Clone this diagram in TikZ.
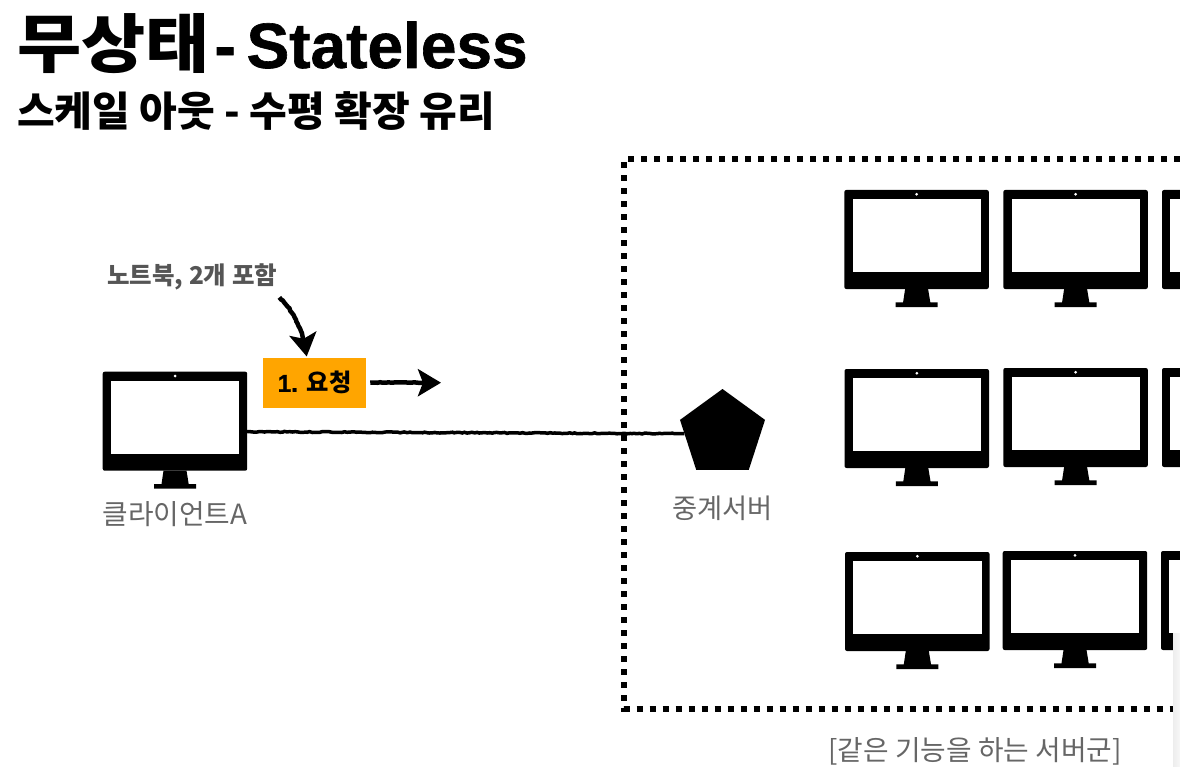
\documentclass[tikz,border=0pt]{standalone}
\usepackage{fontspec}
\setmainfont[BoldFeatures={FakeBold=1}]{Liberation Sans}
\newfontfamily\kr{Noto Sans CJK KR}
\newfontfamily\krwide[FakeStretch=1.09]{Noto Sans CJK KR}
\definecolor{clNote}{HTML}{555555}
\definecolor{clLabel}{HTML}{666666}
\definecolor{clRequest}{HTML}{FFA500}
\usetikzlibrary{arrows.meta,positioning,calc,shapes.geometric,decorations.pathmorphing}
\tikzset{
  monbody/.style={rectangle, rounded corners=2pt, fill=black, anchor=north west, inner sep=0pt,
                  outer sep=0pt, minimum width=144.5pt, minimum height=99pt},
  monscreen/.style={rectangle, fill=white, anchor=north west, inner sep=0pt,
                    outer sep=0pt, minimum width=128.3pt, minimum height=72.7pt},
  monitor/.pic={
    \node[monbody] (-body) at (0,0) {};
    \node[monscreen] (-screen) at (8.3,9.3) {};
    \fill (60.8,99) -- (83.8,99) -- (86,112.3) -- (93.3,112.3) -- (93.3,117) -- (51.3,117) -- (51.3,112.3) -- (58.8,112.3) -- cycle;
    \fill[white] (72.3,4.3) circle (1.5);
  },
  relay/.style={regular polygon, regular polygon sides=5, fill=black, inner sep=0pt,
                outer sep=0pt, minimum size=89.4pt},
  request/.style={rectangle, fill=clRequest, inner sep=0pt, minimum width=102.7pt, minimum height=50pt,
                  font=\bfseries\fontsize{24.3}{24.3}\selectfont},
  label/.style={text=clLabel, inner sep=0pt, font=\fontsize{27.8}{27.8}\selectfont},
  rough/.style={line width=3.5pt, decorate, decoration={random steps, segment length=2.5pt, amplitude=.5pt, post length=10pt}},
  flow/.style={rough, draw=black, line width=4.5pt, -{Stealth[length=23pt, width=27pt, inset=5pt]}},
  farm/.style={line width=6pt, dash pattern=on 6pt off 7pt},
}
\begin{document}
\begin{tikzpicture}[x=1pt, y=-1pt]
  \useasboundingbox (0,0) rectangle (1180,767);
  \clip (0,0) rectangle (1180,767);
  \node[anchor=west, inner sep=0pt, font=\bfseries\fontsize{64}{64}\selectfont] (title) at (17,44) {{\krwide 무상태}\hspace{-13pt} - \hspace{-7pt}Stateless};
  \node[anchor=west, inner sep=0pt, font=\bfseries\fontsize{41}{41}\selectfont] (subtitle) at (17,111) {\kr 스케일 아웃 - 수평 확장 유리};
  % client side
  \pic (client) at (102.7,371.7) {monitor};
  \node[label, below=31pt of client-body.south] (clientlabel) {\kr 클라이언트A};
  \node[request] (req) at (314.7,382.7) {1. {\kr 요청}};
  \node[anchor=west, inner sep=0pt, text=clNote, font=\bfseries\fontsize{24.5}{24.5}\selectfont] (note) at (107,277) {\kr 노트북, 2개 포함};
  \coordinate (reqend) at (441,382.7);
  % server farm
  \draw[farm] (1180,159) -- (624.3,159) -- (624.3,709) -- (1180,709);
  \node[relay] (proxy) at (722.5,433.7) {};
  \node[label, below=26pt of proxy.south, font=\fontsize{27.3}{27.3}\selectfont] (proxylabel) {\kr 중계서버};
  \pic (srvaa) at (844.3,190) {monitor};
  \pic (srvab) at (1003.3,190) {monitor};
  \pic (srvac) at (1162,190) {monitor};
  \pic (srvba) at (844.5,369) {monitor};
  \pic (srvbb) at (1003.3,368) {monitor};
  \pic (srvbc) at (1162,368) {monitor};
  \pic (srvca) at (845,552) {monitor};
  \pic (srvcb) at (1002.7,551) {monitor};
  \pic (srvcc) at (1161,551) {monitor};
  \node[label, anchor=center] (farmlabel) at (975,751) {\kr [같은 기능을 하는 서버군]};
  \fill[left color=black!7, right color=black!3] (1173,633) rectangle (1180,767);
  % connectors
  \draw[rough] ($(client-body.east)+(0,10.5)$) -- (proxy.west);
  \draw[flow] ($(note.south east)+(2,7)$) .. controls (295,313) and (303,330) .. ($(req.north)+(-8,-1)$);
  \draw[flow] (req.east) ++(4,0) -- (reqend);
\end{tikzpicture}
\end{document}
